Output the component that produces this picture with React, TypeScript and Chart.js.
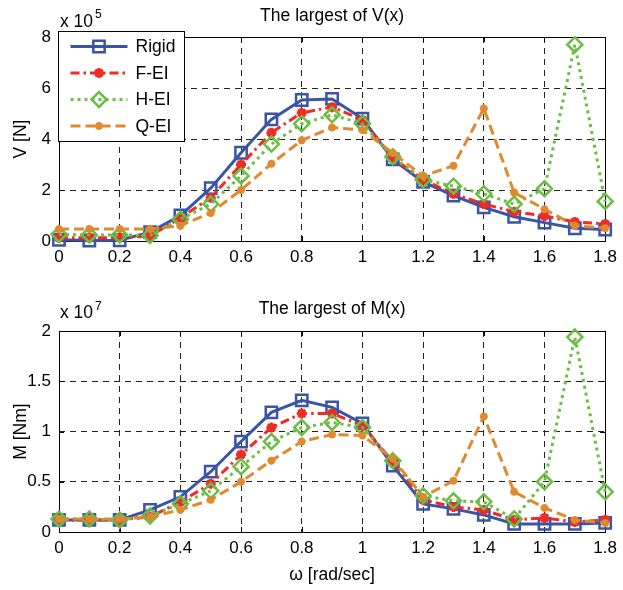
import { useEffect, useRef } from "react";
import { Chart, registerables } from "chart.js";
import { drawPoint } from "chart.js/helpers";

Chart.register(...registerables);

const omega = [0, 0.1, 0.2, 0.3, 0.4, 0.5, 0.6, 0.7, 0.8, 0.9, 1.0, 1.1, 1.2, 1.3, 1.4, 1.5, 1.6, 1.7, 1.8];
const xTicks = [0, 0.2, 0.4, 0.6, 0.8, 1.0, 1.2, 1.4, 1.6, 1.8];
const vTicks = [0, 2, 4, 6, 8];
const mTicks = [0, 0.5, 1, 1.5, 2];

// V(x), x 10^5 N
const vRigid = [0.05, 0.02, 0.03, 0.35, 1.0, 2.07, 3.46, 4.77, 5.53, 5.57, 4.8, 3.2, 2.32, 1.78, 1.32, 0.95, 0.72, 0.5, 0.45];
const vFEI = [0.13, 0.13, 0.13, 0.2, 0.9, 1.7, 3.0, 4.25, 5.03, 5.25, 4.75, 3.25, 2.4, 1.85, 1.45, 1.15, 0.98, 0.75, 0.67];
const vHEI = [0.26, 0.24, 0.24, 0.22, 0.85, 1.45, 2.55, 3.8, 4.6, 4.95, 4.6, 3.3, 2.4, 2.15, 1.85, 1.45, 2.05, 7.7, 1.55];
const vQEI = [0.47, 0.47, 0.47, 0.47, 0.6, 1.1, 2.0, 3.03, 3.95, 4.45, 4.35, 3.45, 2.55, 2.95, 5.2, 1.9, 1.25, 0.6, 0.5];

// M(x), x 10^7 Nm
const mRigid = [0.12, 0.12, 0.12, 0.22, 0.35, 0.6, 0.9, 1.19, 1.31, 1.24, 1.08, 0.66, 0.28, 0.23, 0.17, 0.08, 0.08, 0.08, 0.09];
const mFEI = [0.12, 0.12, 0.12, 0.15, 0.3, 0.48, 0.77, 1.04, 1.18, 1.18, 1.06, 0.7, 0.32, 0.25, 0.22, 0.12, 0.14, 0.1, 0.12];
const mHEI = [0.13, 0.13, 0.12, 0.16, 0.28, 0.41, 0.65, 0.9, 1.04, 1.09, 1.04, 0.71, 0.36, 0.31, 0.3, 0.13, 0.5, 1.94, 0.4];
const mQEI = [0.13, 0.13, 0.13, 0.15, 0.22, 0.32, 0.5, 0.71, 0.9, 0.97, 0.96, 0.73, 0.35, 0.51, 1.15, 0.4, 0.24, 0.12, 0.09];

const seriesNames = ["Rigid", "F-EI", "H-EI", "Q-EI"];

const FONT = '"Liberation Sans", Arial, sans-serif';
const TICK_SIZE = 17;
const TEXT_SIZE = 17.5;

const styles = [
  { color: "#3A55A5", dash: [] as number[], pointStyle: "rect", radius: 8, pbw: 2.5, width: 3 },
  { color: "#EE2B25", dash: [9, 4, 2.5, 4], pointStyle: "star", radius: 5, pbw: 3, width: 3 },
  { color: "#6CBD45", dash: [3, 4], pointStyle: "rectRot", radius: 7.5, pbw: 2.5, width: 3 },
  { color: "#DF8A2E", dash: [10, 5], pointStyle: "star", radius: 4, pbw: 2.5, width: 3 },
];

function makeDatasets(series: number[][]) {
  return series.map((arr, i) => {
    const s = styles[i];
    return {
      label: seriesNames[i],
      data: omega.map((x, k) => ({ x, y: arr[k] })),
      borderColor: s.color,
      borderWidth: s.width,
      borderDash: s.dash,
      pointStyle: s.pointStyle,
      pointRadius: s.radius,
      pointBorderWidth: s.pbw,
      pointBorderColor: s.color,
      pointBackgroundColor: "rgba(0,0,0,0)",
      tension: 0,
      fill: false,
      clip: false,
      order: 4 - i,
    };
  });
}

const boxPlugin = {
  id: "matlabBox",
  beforeDatasetsDraw(chart: any) {
    const { ctx, chartArea: a, scales } = chart;
    ctx.save();
    ctx.strokeStyle = "#000";
    ctx.lineWidth = 1;
    ctx.setLineDash([]);
    const tl = 5;
    ctx.beginPath();
    scales.x.ticks.forEach((t: any) => {
      const px = Math.round(scales.x.getPixelForValue(t.value)) + 0.5;
      ctx.moveTo(px, a.bottom);
      ctx.lineTo(px, a.bottom - tl);
      ctx.moveTo(px, a.top);
      ctx.lineTo(px, a.top + tl);
    });
    scales.y.ticks.forEach((t: any) => {
      const py = Math.round(scales.y.getPixelForValue(t.value)) + 0.5;
      ctx.moveTo(a.left, py);
      ctx.lineTo(a.left + tl, py);
      ctx.moveTo(a.right, py);
      ctx.lineTo(a.right - tl, py);
    });
    ctx.stroke();
    ctx.strokeRect(Math.round(a.left) + 0.5, Math.round(a.top) + 0.5, Math.round(a.right - a.left), Math.round(a.bottom - a.top));
    ctx.restore();
  },
};

function exponentPlugin(exp: string, baseDy: number, supDy: number) {
  return {
    id: "exponentLabel",
    afterDraw(chart: any) {
      const { ctx, chartArea: a } = chart;
      ctx.save();
      ctx.fillStyle = "#000";
      ctx.textBaseline = "alphabetic";
      ctx.textAlign = "left";
      ctx.font = `${TEXT_SIZE}px ${FONT}`;
      const base = "x 10";
      ctx.fillText(base, a.left + 1, a.top - baseDy);
      const w = ctx.measureText(base).width;
      ctx.font = `12px ${FONT}`;
      ctx.fillText(exp, a.left + 1 + w + 2, a.top - supDy);
      ctx.restore();
    },
  };
}

const legendPlugin = {
  id: "matlabLegend",
  afterDraw(chart: any) {
    const { ctx, chartArea: a } = chart;
    const left = a.left - 0.5;
    const top = a.top - 5.5;
    const w = 126;
    const h = 110;
    ctx.save();
    ctx.fillStyle = "#fff";
    ctx.fillRect(left, top, w, h);
    ctx.strokeStyle = "#000";
    ctx.lineWidth = 1;
    ctx.setLineDash([]);
    ctx.strokeRect(left, top, w, h);
    chart.data.datasets.forEach((ds: any, i: number) => {
      const y = top + 15 + i * 26.5;
      const x0 = left + 12;
      const x1 = left + 69;
      ctx.strokeStyle = ds.borderColor;
      ctx.lineWidth = ds.borderWidth;
      ctx.setLineDash(ds.borderDash);
      ctx.beginPath();
      ctx.moveTo(x0, y);
      ctx.lineTo(x1, y);
      ctx.stroke();
      ctx.setLineDash([]);
      ctx.lineWidth = ds.pointBorderWidth;
      ctx.fillStyle = "rgba(0,0,0,0)";
      drawPoint(ctx, { pointStyle: ds.pointStyle, radius: ds.pointRadius, borderWidth: ds.pointBorderWidth, rotation: 0 }, (x0 + x1) / 2, y);
      ctx.fillStyle = "#000";
      ctx.font = `${TEXT_SIZE}px ${FONT}`;
      ctx.textBaseline = "middle";
      ctx.textAlign = "left";
      ctx.fillText(ds.label, left + 77, y + 1);
    });
    ctx.restore();
  },
};

function fmt(v: number) {
  return String(Number(v.toFixed(2)));
}

function makeConfig(opts: {
  series: number[][];
  title: string;
  titlePad: { top: number; bottom: number };
  yTitle: string;
  yTicks: number[];
  exp: string;
  expDy: [number, number];
  xTitle?: string;
  xHeight: number;
  legend: boolean;
}) {
  const plugins: any[] = [boxPlugin, exponentPlugin(opts.exp, opts.expDy[0], opts.expDy[1])];
  if (opts.legend) plugins.push(legendPlugin);
  const yMax = opts.yTicks[opts.yTicks.length - 1];
  return {
    type: "line" as const,
    data: { datasets: makeDatasets(opts.series) },
    plugins,
    options: {
      animation: false,
      responsive: false,
      devicePixelRatio: 1,
      layout: { padding: { left: 0, right: 13, top: 0, bottom: 0 } },
      font: { family: FONT },
      plugins: {
        legend: { display: false },
        tooltip: { enabled: false },
        title: {
          display: true,
          text: opts.title,
          fullSize: false,
          color: "#000",
          font: { family: FONT, size: TEXT_SIZE, weight: "normal" },
          padding: opts.titlePad,
        },
      },
      scales: {
        x: {
          type: "linear",
          min: 0,
          max: 1.8,
          afterBuildTicks: (s: any) => {
            s.ticks = xTicks.map((v) => ({ value: v }));
          },
          afterFit: (s: any) => {
            s.height = opts.xHeight;
          },
          ticks: {
            color: "#000",
            font: { family: FONT, size: TICK_SIZE },
            padding: 6,
            maxRotation: 0,
            autoSkip: false,
            callback: (v: any) => fmt(Number(v)),
          },
          grid: { color: "#222", lineWidth: 1, drawTicks: false },
          border: { display: false, dash: [6, 5] },
          title: opts.xTitle
            ? {
                display: true,
                text: opts.xTitle,
                color: "#000",
                font: { family: FONT, size: TEXT_SIZE },
                padding: { top: 0, bottom: 4.5 },
              }
            : { display: false },
        },
        y: {
          type: "linear",
          min: 0,
          max: yMax,
          afterBuildTicks: (s: any) => {
            s.ticks = opts.yTicks.map((v) => ({ value: v }));
          },
          afterFit: (s: any) => {
            s.width = 59;
          },
          ticks: {
            color: "#000",
            font: { family: FONT, size: TICK_SIZE },
            padding: 8,
            callback: (v: any) => fmt(Number(v)),
          },
          grid: { color: "#222", lineWidth: 1, drawTicks: false },
          border: { display: false, dash: [6, 5] },
          title: {
            display: true,
            text: opts.yTitle,
            color: "#000",
            font: { family: FONT, size: TEXT_SIZE },
            padding: { top: 10.5, bottom: 0 },
          },
        },
      },
    },
  };
}

function Panel(props: { config: any; top: number }) {
  const ref = useRef<HTMLCanvasElement | null>(null);
  useEffect(() => {
    if (!ref.current) return;
    const chart = new Chart(ref.current, props.config);
    return () => chart.destroy();
  }, []);
  return (
    <canvas
      ref={ref}
      width={623}
      height={295}
      style={{ position: "absolute", left: 0, top: props.top, width: 623, height: 295, display: "block" }}
    />
  );
}

export default function App() {
  const topConfig = makeConfig({
    series: [vRigid, vFEI, vHEI, vQEI],
    title: "The largest of V(x)",
    titlePad: { top: 5.8, bottom: 10.2 },
    yTitle: "V [N]",
    yTicks: vTicks,
    exp: "5",
    expDy: [10.5, 19],
    xHeight: 54,
    legend: true,
  });
  const bottomConfig = makeConfig({
    series: [mRigid, mFEI, mHEI, mQEI],
    title: "The largest of M(x)",
    titlePad: { top: 4, bottom: 11 },
    yTitle: "M [Nm]",
    yTicks: mTicks,
    exp: "7",
    expDy: [13, 21],
    xTitle: "ω [rad/sec]",
    xHeight: 58,
    legend: false,
  });
  return (
    <div style={{ position: "absolute", left: 0, top: 0, width: 623, height: 590, background: "#fff" }}>
      <Panel config={topConfig} top={0} />
      <Panel config={bottomConfig} top={295} />
    </div>
  );
}
